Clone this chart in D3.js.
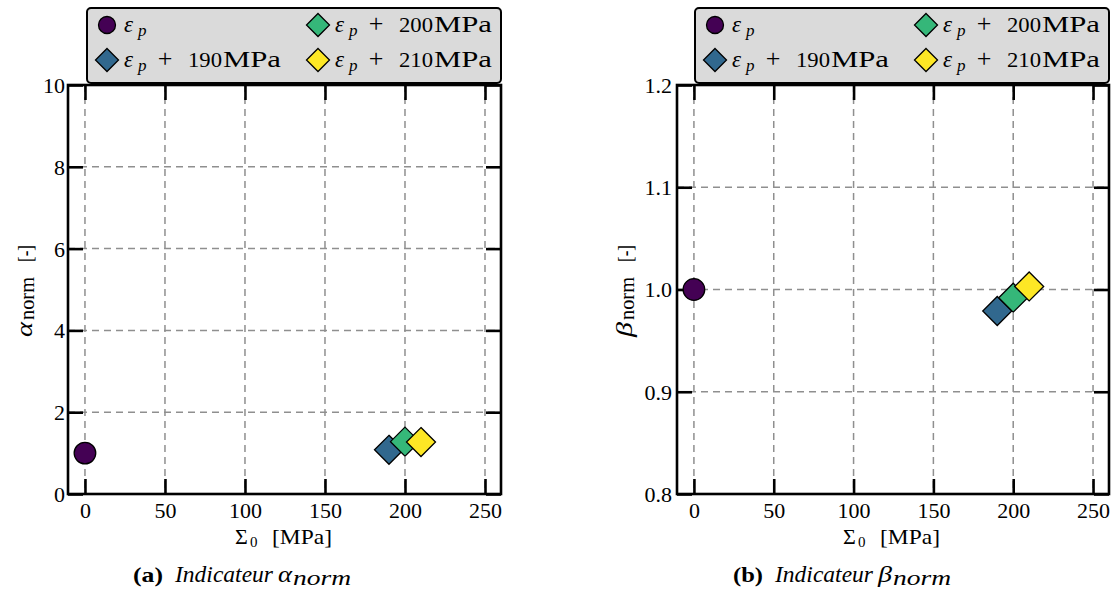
<!DOCTYPE html>
<html><head><meta charset="utf-8">
<script src="https://cdn.jsdelivr.net/npm/d3@7/dist/d3.min.js"></script>
<style>
html,body{margin:0;padding:0;background:#fff;}
svg text{font-family:"Liberation Serif","DejaVu Serif",serif;fill:#000;}
</style></head>
<body><svg id="c" width="1118" height="592"></svg>
<script>
// ---- data ----
const seriesNames = ["εp", "εp + 190MPa", "εp + 200MPa", "εp + 210MPa"];
const seriesOffsets = ["", "190", "200", "210"];   // MPa added to εp
const sigma0 = [0, 190, 200, 210];
const alphaNorm = [1.0, 1.08, 1.28, 1.27];
const betaNorm = [1.0, 0.979, 0.992, 1.003];
const markerTypes = ["circle", "diamond", "diamond", "diamond"];
const colors = ["#440154", "#31688e", "#35b779", "#fde725"];
const xTicks = [0, 50, 100, 150, 200, 250];
const alphaTicks = [0, 2, 4, 6, 8, 10];
const betaTicks = [0.8, 0.9, 1.0, 1.1, 1.2];

const svg = d3.select("#c");
const FONT = '"Liberation Serif","DejaVu Serif",serif';

function drawPanel(cfg) {
  const g = svg.append("g");
  const x = d3.scaleLinear().domain([-10.6, 260]).range([cfg.left, cfg.right]);
  const y = d3.scaleLinear().domain(cfg.yDomain).range([cfg.bottom, cfg.top]);
  const W = cfg.right - cfg.left, H = cfg.bottom - cfg.top;

  // grid
  const gridStyle = sel => sel.attr("stroke", "#8f8f8f").attr("stroke-width", 1.5).attr("stroke-dasharray", "7,5");
  g.append("g").selectAll("line").data(xTicks).join("line")
    .attr("x1", d => x(d)).attr("x2", d => x(d)).attr("y1", cfg.top).attr("y2", cfg.bottom).call(gridStyle);
  g.append("g").selectAll("line").data(cfg.yTicks).join("line")
    .attr("x1", cfg.left).attr("x2", cfg.right).attr("y1", d => y(d)).attr("y2", d => y(d)).call(gridStyle);

  // axes, inward ticks on all four sides
  const tl = 15;
  const axB = g.append("g").attr("transform", `translate(0,${cfg.bottom})`)
    .call(d3.axisBottom(x).tickValues(xTicks).tickSizeInner(-tl).tickSizeOuter(0).tickPadding(8));
  const axT = g.append("g").attr("transform", `translate(0,${cfg.top})`)
    .call(d3.axisTop(x).tickValues(xTicks).tickSizeInner(-tl).tickSizeOuter(0).tickFormat(""));
  const axL = g.append("g").attr("transform", `translate(${cfg.left},0)`)
    .call(d3.axisLeft(y).tickValues(cfg.yTicks).tickSizeInner(-tl).tickSizeOuter(0).tickPadding(cfg.yPad)
      .tickFormat(cfg.yFormat));
  const axR = g.append("g").attr("transform", `translate(${cfg.right},0)`)
    .call(d3.axisRight(y).tickValues(cfg.yTicks).tickSizeInner(-tl).tickSizeOuter(0).tickFormat(""));
  [axB, axT, axL, axR].forEach(a => {
    a.attr("font-family", FONT).attr("font-size", 22);
    a.select(".domain").remove();
    a.selectAll(".tick line").attr("stroke", "#000").attr("stroke-width", 2.6);
    a.selectAll("text").attr("fill", "#000");
  });
  axL.selectAll("text").attr("dy", "0.34em");

  g.append("rect").attr("x", cfg.left).attr("y", cfg.top).attr("width", W).attr("height", H)
    .attr("fill", "none").attr("stroke", "#000").attr("stroke-width", 2.6);

  // markers
  const sym = {
    circle: () => d3.symbol().type(d3.symbolCircle).size(Math.PI * 10.8 * 10.8)(),
    diamond: () => "M0,-14.5L14.5,0L0,14.5L-14.5,0Z"
  };
  g.append("g").selectAll("path").data(sigma0.map((s, i) => ({ s, v: cfg.values[i], i })))
    .join("path")
    .attr("transform", d => `translate(${x(d.s)},${y(d.v)})`)
    .attr("d", d => sym[markerTypes[d.i]]())
    .attr("fill", d => colors[d.i]).attr("stroke", "#000").attr("stroke-width", 1.3);

  // x label  Σ0 [MPa]
  const xs = cfg.xlabStart, xb = 544;
  g.append("text").attr("x", xs).attr("y", xb).attr("font-size", 22).text("Σ");
  g.append("text").attr("x", xs + 15).attr("y", xb + 3).attr("font-size", 15).text("0");
  g.append("text").attr("x", xs + 37).attr("y", xb).attr("font-size", 22)
    .attr("textLength", 60).attr("lengthAdjust", "spacingAndGlyphs").text("[MPa]");

  // y label (rotated)
  const yl = g.append("g").attr("transform", `translate(${cfg.ylx},337) rotate(-90)`);
  yl.append("text").attr("x", 0).attr("y", 0).attr("font-size", 23).attr("font-style", "italic")
    .attr("textLength", 15).attr("lengthAdjust", "spacingAndGlyphs").text(cfg.ySym);
  yl.append("text").attr("x", 17).attr("y", 2).attr("font-size", 20)
    .attr("textLength", 43).attr("lengthAdjust", "spacingAndGlyphs").text("norm");
  yl.append("text").attr("x", 75).attr("y", 0).attr("font-size", 22)
    .attr("textLength", 17).attr("lengthAdjust", "spacingAndGlyphs").text("[-]");

  // caption
  const cs = cfg.capStart, cb = 582;
  g.append("text").attr("x", cs).attr("y", cb).attr("font-size", 22).attr("font-weight", "bold")
    .attr("textLength", 30).attr("lengthAdjust", "spacingAndGlyphs").text("(" + cfg.letter + ")");
  g.append("text").attr("x", cs + 42).attr("y", cb).attr("font-size", 23).attr("font-style", "italic")
    .attr("textLength", 98).attr("lengthAdjust", "spacingAndGlyphs").text("Indicateur");
  g.append("text").attr("x", cs + 145).attr("y", cb).attr("font-size", 23).attr("font-style", "italic")
    .attr("textLength", 14).attr("lengthAdjust", "spacingAndGlyphs").text(cfg.ySym);
  g.append("text").attr("x", cs + 160).attr("y", cb + 3).attr("font-size", 22).attr("font-style", "italic")
    .attr("textLength", 58).attr("lengthAdjust", "spacingAndGlyphs").text("norm");

  // legend
  const lg = g.append("g");
  lg.append("rect").attr("x", cfg.legL).attr("y", 8).attr("width", cfg.right - cfg.legL).attr("height", 75)
    .attr("rx", 4).attr("fill", "#dadada").attr("stroke", "#000").attr("stroke-width", 2);
  const pos = [
    { mx: cfg.legL + 20, my: 25 },
    { mx: cfg.legL + 20, my: 60 },
    { mx: cfg.legL + 231, my: 25 },
    { mx: cfg.legL + 231, my: 60 }
  ];
  const lsym = {
    circle: () => d3.symbol().type(d3.symbolCircle).size(Math.PI * 8.5 * 8.5)(),
    diamond: () => "M0,-11.5L11.5,0L0,11.5L-11.5,0Z"
  };
  seriesNames.forEach((name, i) => {
    const p = pos[i], bl = p.my + 7;
    lg.append("path").attr("transform", `translate(${p.mx},${p.my})`)
      .attr("d", lsym[markerTypes[i]]()).attr("fill", colors[i]).attr("stroke", "#000").attr("stroke-width", 1.3);
    lg.append("text").attr("x", p.mx + 17).attr("y", bl).attr("font-size", 23).attr("font-style", "italic").text("ε");
    lg.append("text").attr("x", p.mx + 31).attr("y", bl + 4).attr("font-size", 17).attr("font-style", "italic").text("p");
    if (seriesOffsets[i]) {
      lg.append("text").attr("x", p.mx + 58).attr("y", bl).attr("font-size", 26).attr("text-anchor", "middle").text("+");
      lg.append("text").attr("x", p.mx + 81).attr("y", bl).attr("font-size", 22)
        .attr("textLength", 34).attr("lengthAdjust", "spacingAndGlyphs").text(seriesOffsets[i]);
      lg.append("text").attr("x", p.mx + 116).attr("y", bl).attr("font-size", 23)
        .attr("textLength", 58).attr("lengthAdjust", "spacingAndGlyphs").text("MPa");
    }
  });
}

drawPanel({ left: 68, right: 501, top: 85, bottom: 494, yDomain: [0, 10], yTicks: alphaTicks, yPad: 3,
  yFormat: d3.format("d"), values: alphaNorm, ySym: "α", ylx: 32, capStart: 133, xlabStart: 235,
  letter: "a", legL: 87 });
drawPanel({ left: 677, right: 1109, top: 85, bottom: 494, yDomain: [0.8, 1.2], yTicks: betaTicks, yPad: 5,
  yFormat: d3.format(".1f"), values: betaNorm, ySym: "β", ylx: 632, capStart: 733, xlabStart: 843,
  letter: "b", legL: 695 });
</script></body></html>
